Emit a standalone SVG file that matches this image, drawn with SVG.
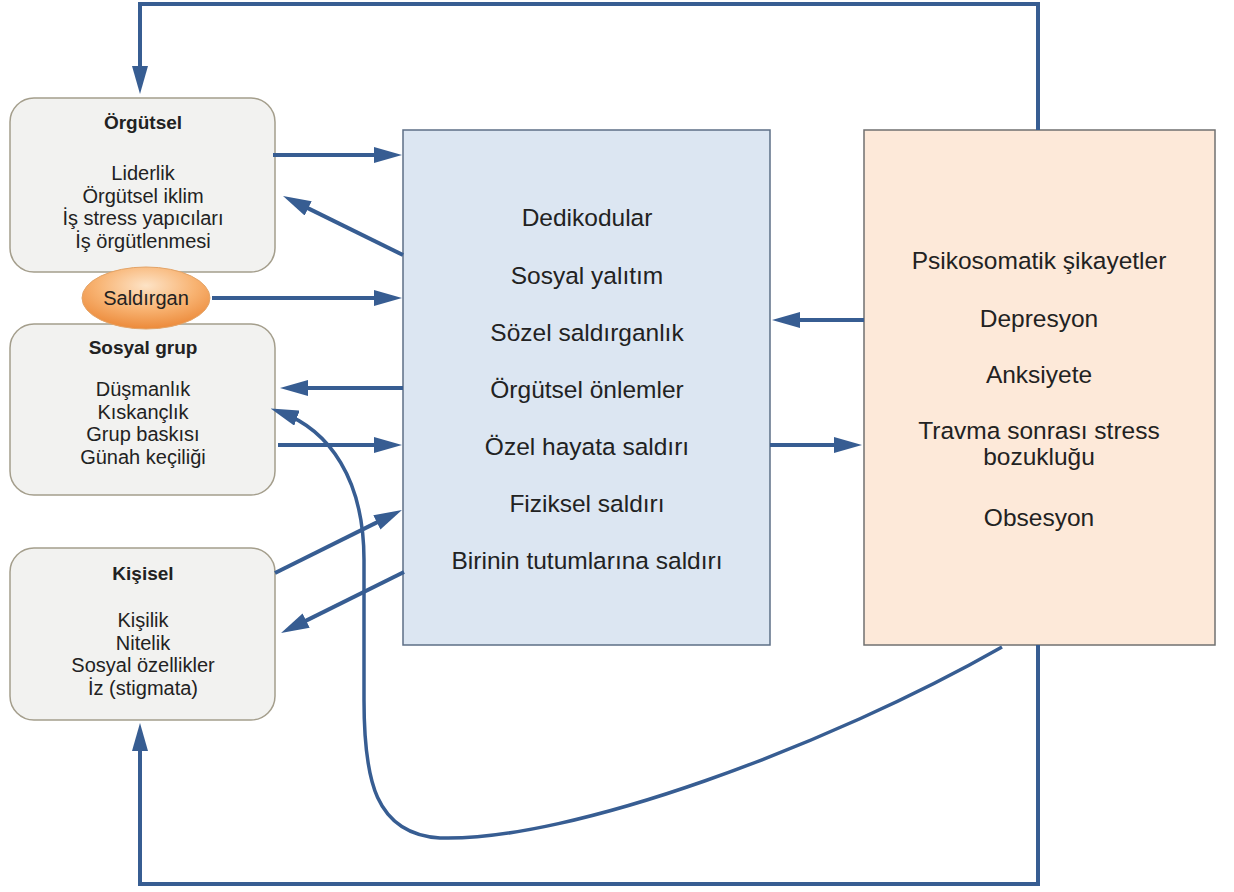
<svg xmlns="http://www.w3.org/2000/svg" width="1234" height="892" viewBox="0 0 1234 892">
<defs>
<style>
.box{fill:#f2f2f0;stroke:#a49e8c;stroke-width:1.5}
.t{font-family:"Liberation Sans",Arial,sans-serif;fill:#222;text-anchor:middle}
.ttl{font-size:19px;font-weight:bold}
.b{font-size:20px}
.big{font-size:24.5px}
.c{fill:none;stroke:#375d92;stroke-width:4}
.cv{fill:none;stroke:#375d92;stroke-width:3.5}
</style>
<marker id="ah" markerWidth="28" markerHeight="16" refX="18" refY="8" orient="auto" markerUnits="userSpaceOnUse">
<path d="M0,0 L28,8 L0,16 z" fill="#375d92"/>
</marker>
<radialGradient id="og" cx="0.5" cy="0.3" r="0.7">
<stop offset="0" stop-color="#fde3c6"/>
<stop offset="0.55" stop-color="#f8b372"/>
<stop offset="1" stop-color="#ec8a3a"/>
</radialGradient>
</defs>
<rect width="1234" height="892" fill="#ffffff"/>

<g id="center">
<rect x="403" y="130" width="367" height="515" fill="#dce6f2" stroke="#5d6f86" stroke-width="1.5"/>
<text class="t big" x="587" y="226">Dedikodular</text>
<text class="t big" x="587" y="284">Sosyal yalıtım</text>
<text class="t big" x="587" y="341">Sözel saldırganlık</text>
<text class="t big" x="587" y="398">Örgütsel önlemler</text>
<text class="t big" x="587" y="455">Özel hayata saldırı</text>
<text class="t big" x="587" y="512">Fiziksel saldırı</text>
<text class="t big" x="587" y="569">Birinin tutumlarına saldırı</text>
</g>

<g id="effects">
<rect x="864" y="130" width="351" height="515" fill="#fde9d9" stroke="#707070" stroke-width="1.5"/>
<text class="t big" x="1039" y="269">Psikosomatik şikayetler</text>
<text class="t big" x="1039" y="327">Depresyon</text>
<text class="t big" x="1039" y="383">Anksiyete</text>
<text class="t big" x="1039" y="439">Travma sonrası stress</text>
<text class="t big" x="1039" y="465">bozukluğu</text>
<text class="t big" x="1039" y="526">Obsesyon</text>
</g>

<g id="orgutsel">
<rect class="box" x="10" y="98" width="265" height="174" rx="24"/>
<text class="t ttl" x="143" y="129">Örgütsel</text>
<text class="t b" x="143" y="180">Liderlik</text>
<text class="t b" x="143" y="202.5">Örgütsel iklim</text>
<text class="t b" x="143" y="225">İş stress yapıcıları</text>
<text class="t b" x="143" y="247.5">İş örgütlenmesi</text>
</g>

<g id="sosyal">
<rect class="box" x="10" y="324" width="265" height="171" rx="24"/>
<text class="t ttl" x="143" y="354">Sosyal grup</text>
<text class="t b" x="143" y="396">Düşmanlık</text>
<text class="t b" x="143" y="418.5">Kıskançlık</text>
<text class="t b" x="143" y="441">Grup baskısı</text>
<text class="t b" x="143" y="463.5">Günah keçiliği</text>
</g>

<g id="kisisel">
<rect class="box" x="10" y="548" width="265" height="172" rx="24"/>
<text class="t ttl" x="143" y="580">Kişisel</text>
<text class="t b" x="143" y="627">Kişilik</text>
<text class="t b" x="143" y="649.5">Nitelik</text>
<text class="t b" x="143" y="672">Sosyal özellikler</text>
<text class="t b" x="143" y="694.5">İz (stigmata)</text>
</g>

<g id="connectors">
<path class="c" d="M273,155 L392,155" marker-end="url(#ah)"/>
<path class="c" d="M403,255 L292,200.4" marker-end="url(#ah)"/>
<path class="c" d="M212,298 L392,298" marker-end="url(#ah)"/>
<path class="c" d="M403,388 L290,388" marker-end="url(#ah)"/>
<path class="c" d="M278,445 L392,445" marker-end="url(#ah)"/>
<path class="c" d="M275,573 L393,514.4" marker-end="url(#ah)"/>
<path class="c" d="M404,572 L290,628.6" marker-end="url(#ah)"/>
<path class="c" d="M864,320 L782,320" marker-end="url(#ah)"/>
<path class="c" d="M770,445 L852,445" marker-end="url(#ah)"/>
<path class="c" d="M1038,130 L1038,4 L140,4 L140,84" marker-end="url(#ah)"/>
<path class="c" d="M1038,645 L1038,884 L140,884 L140,733" marker-end="url(#ah)"/>
<path class="cv" d="M1002,647 C830,745 570,842 440,838 C375,834 364,780 364,700 L364,560 C364,480 330,430 280,412" marker-end="url(#ah)"/>
</g>

<g id="saldirgan">
<ellipse cx="146" cy="298" rx="64" ry="31" fill="url(#og)" stroke="#e3a468" stroke-width="1"/>
<text class="t b" x="146" y="305" font-size="19">Saldırgan</text>
</g>
</svg>
